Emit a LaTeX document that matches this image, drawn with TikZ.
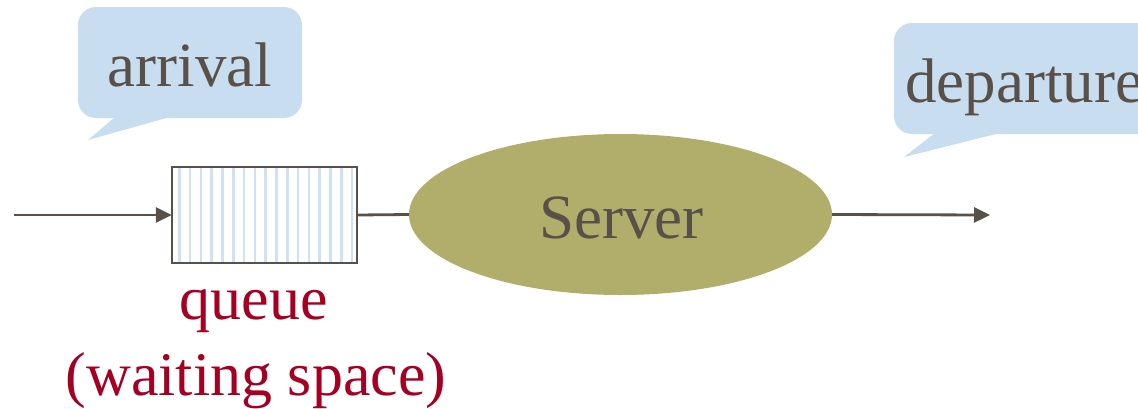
\documentclass[tikz,border=0pt]{standalone}
\usepackage{fontspec}
\setmainfont{Liberation Serif}
\usetikzlibrary{arrows.meta,shapes.geometric}
\definecolor{txtgray}{HTML}{595049}
\definecolor{calloutblue}{HTML}{C8DDF0}
\definecolor{stripeblue}{HTML}{CFE1F4}
\definecolor{olive}{HTML}{B1AE6B}
\definecolor{qred}{HTML}{A50021}
\tikzset{
  bigtext/.style={font=\fontsize{63}{76}\selectfont, text=txtgray, inner sep=0pt},
  redtext/.style={font=\fontsize{62}{76}\selectfont, text=qred, inner sep=0pt},
  callout/.style={fill=calloutblue, draw=none},
  flow/.style={draw=txtgray, line width=2.8pt, -{Triangle[length=16pt,width=15pt]}},
  plainline/.style={draw=txtgray, line width=2.8pt},
}
\begin{document}
\begin{tikzpicture}[x=1pt,y=-1pt]
\useasboundingbox (0,0) rectangle (1138,408);
\clip (0,0) rectangle (1138,408);
% arrival callout
\fill[callout, rounded corners=18pt] (78,7) rectangle (302,118);
\fill[callout] (115,117) -- (170,117) -- (88,140) -- cycle;
\node[bigtext, anchor=base] (arr) at (190,86) {arrival};
% departure callout
\fill[callout, rounded corners=18pt] (894,23) rectangle (1170,134);
\fill[callout] (935,133) -- (1000,133) -- (904,157) -- cycle;
\node[bigtext, anchor=base west] (dep) at (905,102) {departure};
% queue
\node[draw=none, minimum width=185pt, minimum height=96pt, inner sep=0pt] (q) at (264.5,215) {};
\foreach \k in {0,...,16}{
  \draw[stripeblue, line width=2.6pt] ({179.3+10.8*\k},168) -- ({179.3+10.8*\k},262);
}
\draw[txtgray, line width=2.2pt] (q.north west) rectangle (q.south east);
% server
\node[ellipse, fill=olive, minimum width=423pt, minimum height=161pt, inner sep=0pt] (srv) at (620.5,214.5) {};
\node[bigtext, anchor=base] (srvtxt) at (621.5,238) {Server};
% connectors
\coordinate (inflow) at (14,215);
\coordinate (outflow) at (990,215);
\draw[flow] (inflow) -- (q.west);
\draw[plainline] (q.east) -- (srv.west);
\draw[flow] (srv.east) -- (outflow);
% labels
\node[redtext, anchor=base] (ql) at (253.5,319) {queue};
\node[redtext, anchor=base] (wl) at (256,395) {(waiting space)};
\end{tikzpicture}
\end{document}
